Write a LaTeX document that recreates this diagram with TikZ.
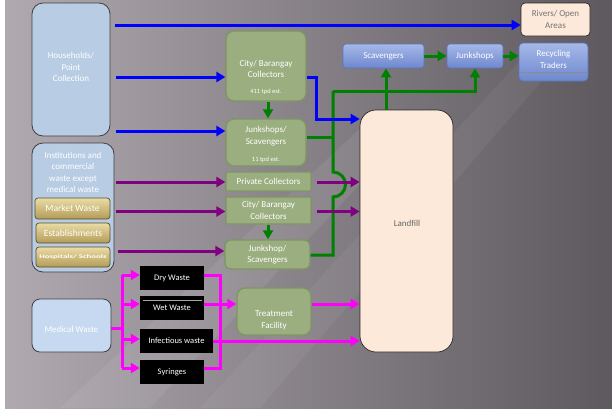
\documentclass[tikz,border=0pt]{standalone}
\usepackage{fontspec}
\setmainfont{Carlito}
\usetikzlibrary{arrows.meta,calc}
\definecolor{bgL}{HTML}{B0A9B0}
\definecolor{bgM}{HTML}{7F7A81}
\definecolor{bgR}{HTML}{5D595E}
\definecolor{lblue}{HTML}{B8CCE4}
\definecolor{lblue2}{HTML}{C6D9F0}
\definecolor{gfill}{HTML}{9AAE7F}
\definecolor{gdraw}{HTML}{7F9565}
\definecolor{peach}{HTML}{FDE9D9}
\definecolor{btop}{HTML}{A6B8E8}
\definecolor{bbot}{HTML}{6E88CF}
\definecolor{bdraw}{HTML}{5B76BD}
\definecolor{gtop}{HTML}{EADCA5}
\definecolor{gbot}{HTML}{B39C57}
\definecolor{arBlue}{HTML}{0000FF}
\definecolor{arGreen}{HTML}{008000}
\definecolor{arPurple}{HTML}{800080}
\definecolor{arMag}{HTML}{FF00FF}
\begin{document}
\begin{tikzpicture}[x=1pt,y=-1pt,
  every node/.style={inner sep=0pt,align=center},
  txt/.style={font=\fontsize{9}{11.5}\selectfont},
  lbbox/.style={draw=black!75,line width=0.8pt,fill=lblue,rounded corners=11pt,text=white,txt},
  gbox/.style={draw=gdraw,line width=1.3pt,fill=gfill,rounded corners=8pt,text=white,txt},
  gsq/.style={draw=gdraw,line width=1.3pt,fill=gfill,rounded corners=1pt,text=white,txt},
  pbox/.style={draw=black!85,line width=0.7pt,fill=peach,text=black!55,txt},
  bbox/.style={draw=bdraw,line width=0.7pt,top color=btop,bottom color=bbot,rounded corners=3pt,text=white,txt},
  kbox/.style={fill=black,text=white,font=\fontsize{8.5}{10}\selectfont},
  goldbox/.style={draw=black!50!gbot,line width=0.7pt,top color=gtop,bottom color=gbot,rounded corners=3pt,text=white,font=\fontsize{9.5}{11}\selectfont},
  small/.style={text=white,font=\fontsize{6.5}{8}\selectfont},
  arr/.style={line width=3pt,-{Triangle[length=9pt,width=10pt]}},
  ln/.style={line width=3pt},
]
\fill[white] (0,0) rectangle (612,413);
\useasboundingbox (0,0) rectangle (612,413);
\shade[left color=bgL,middle color=bgM,right color=bgR] (5,0) rectangle (612,408);
\begin{scope}
\clip (5,0) rectangle (612,408);
\fill[white,opacity=0.07] (60,408) -- (150,408) -- (420,120) -- (380,110) -- cycle;
\fill[white,opacity=0.05] (200,408) -- (260,408) -- (560,60) -- (530,50) -- cycle;
\end{scope}

% left column
\node[lbbox,minimum width=78pt,minimum height=133pt] (hh) at (71,69.5) {};
\node[text=white,txt] (hhT) at (71,67) {Households/\\Point\\Collection};
\node[lbbox,minimum width=82pt,minimum height=129pt] (inst) at (73,207.5) {};
\node[text=white,txt] (instT) at (73,172.5) {Institutions and\\commercial\\waste except\\medical waste};
\node[goldbox,minimum width=75pt,minimum height=21pt] (market) at (72.5,208.5) {Market Waste};
\node[goldbox,minimum width=74pt,minimum height=20pt] (estab) at (73,233) {Establishments};
\node[goldbox,minimum width=74pt,minimum height=20pt] (hosp) at (73,257) {\scalebox{1.6}[1]{\fontsize{5.5}{6}\selectfont\bfseries Hospitals/ Schools}};
\node[lbbox,fill=lblue2,rounded corners=8pt,minimum width=79pt,minimum height=53pt] (med) at (71.5,325.5) {};
\node[text=white,txt] (medT) at (71.5,329) {Medical Waste};

% middle column
\node[gbox,minimum width=80pt,minimum height=70pt] (city1) at (266,66) {};
\node[text=white,txt] (city1T) at (266,69) {City/ Barangay\\Collectors};
\node[small] (city1S) at (266,92) {411 tpd est.};
\node[gbox,minimum width=80pt,minimum height=47pt] (junk1) at (266,142.5) {};
\node[text=white,txt] (junk1T) at (266,136) {Junkshops/\\Scavengers};
\node[small] (junk1S) at (266,160) {11 tpd est.};
\node[gsq,minimum width=85pt,minimum height=19pt] (priv) at (268.5,181.5) {Private Collectors};
\node[gsq,minimum width=85pt,minimum height=27pt] (city2) at (268.5,210.5) {City/ Barangay\\Collectors};
\node[gbox,rounded corners=6pt,minimum width=85pt,minimum height=29pt] (junk2) at (267.5,254.5) {Junkshop/\\Scavengers};
\node[gbox,minimum width=74pt,minimum height=47pt] (treat) at (274,311.5) {};
\node[text=white,txt] (treatT) at (274,320.5) {Treatment\\Facility};

% medical sub-boxes
\node[kbox,minimum width=64pt,minimum height=24pt] (dry) at (172,278) {Dry Waste};
\node[kbox,minimum width=64pt,minimum height=24pt] (wet) at (172,308) {Wet Waste};
\draw[black!35,line width=0.7pt] ($(wet.north west)+(3,4.5)$) -- ($(wet.north east)+(-2,4.5)$);
\node[kbox,minimum width=73pt,minimum height=24pt] (inf) at (176.5,341) {Infectious waste};
\node[kbox,minimum width=64pt,minimum height=24pt] (syr) at (172,372) {Syringes};

% right side
\node[pbox,rounded corners=16pt,minimum width=93pt,minimum height=242pt] (land) at (406.5,231) {};
\node[text=black!60,txt] (landT) at (407,223) {Landfill};
\node[pbox,rounded corners=4pt,minimum width=69pt,minimum height=33pt] (rivers) at (555.5,19.5) {Rivers/ Open\\Areas};
\node[bbox,minimum width=81pt,minimum height=24pt] (scav) at (383.5,56) {Scavengers};
\node[bbox,minimum width=56pt,minimum height=24pt] (junks) at (475,56) {Junkshops};
\node[bbox,rounded corners=4pt,minimum width=69pt,minimum height=38pt] (recyc) at (553.5,62) {};
\node[text=white,txt] (recycT) at (553.5,59.5) {Recycling\\Traders};
\draw[black!45,line width=0.6pt] ($(recyc.south west)+(1,-9)$) -- ($(recyc.south east)+(-1,-9)$);

% green connectors
\coordinate (gTop) at (333,91);
\coordinate (gHopA) at (333,172);
\coordinate (gBot) at (333,255);
\draw[arr,arGreen] (city1.south -| 268,0) -- (junk1.north -| 268,0);
\draw[arr,arGreen] (city2.south -| 268,0) -- (junk2.north -| 268,0);
\draw[arr,arGreen] (land.north -| 386,0) -- (scav.south -| 386,0);
\draw[arr,arGreen] (gTop) -- (475,91) -- (junks.south);
\draw[ln,arGreen,line join=miter] (gTop) -- (gHopA) arc[start angle=90,end angle=-90,radius=12.5pt] -- (gBot) -- (junk2.east |- gBot);
\draw[ln,arGreen] (junk1.east |- 0,137) -- (333,137);
\draw[arr,arGreen] (scav.east) -- (junks.west);
\draw[arr,arGreen] (junks.east) -- (recyc.west |- junks.east);

% blue connectors
\draw[arr,arBlue] (115,25) -- (rivers.west |- 0,25);
\draw[arr,arBlue] (116,77) -- (city1.west |- 0,77);
\draw[arr,arBlue] (116,131) -- (junk1.west |- 0,131);
\draw[arr,arBlue,line join=miter] (city1.east |- 0,77) -- (316,77) -- (316,119) -- (land.west |- 0,119);

% purple connectors
\draw[arr,arPurple] (116,182) -- (priv.west |- 0,182);
\draw[arr,arPurple] (116,211.5) -- (city2.west |- 0,211.5);
\draw[arr,arPurple] (118,251) -- (junk2.west |- 0,251);
\draw[arr,arPurple] (317,182) -- (land.west |- 0,182);
\draw[arr,arPurple] (317,211.5) -- (land.west |- 0,211.5);

% magenta connectors
\coordinate (mL1) at (122,275);
\coordinate (mL2) at (122,368);
\coordinate (mR1) at (220,275);
\coordinate (mR2) at (220,368);
\draw[ln,arMag] (med.east |- 0,328) -- (122,328);
\draw[ln,arMag] (mL1) -- (mL2);
\draw[arr,arMag] (mL1) -- (dry.west |- mL1);
\draw[arr,arMag] (122,304) -- (wet.west |- 0,304);
\draw[arr,arMag] (122,339) -- (inf.west |- 0,339);
\draw[arr,arMag] (mL2) -- (syr.west |- mL2);
\draw[ln,arMag] (dry.east |- mR1) -- (mR1) -- (mR2) -- (syr.east |- mR2);
\draw[arr,arMag] (wet.east |- 0,304) -- (treat.west |- 0,304);
\draw[arr,arMag] (inf.east |- 0,341) -- (land.west |- 0,341);
\draw[arr,arMag] (treat.east |- 0,304) -- (land.west |- 0,304);
\end{tikzpicture}
\end{document}
